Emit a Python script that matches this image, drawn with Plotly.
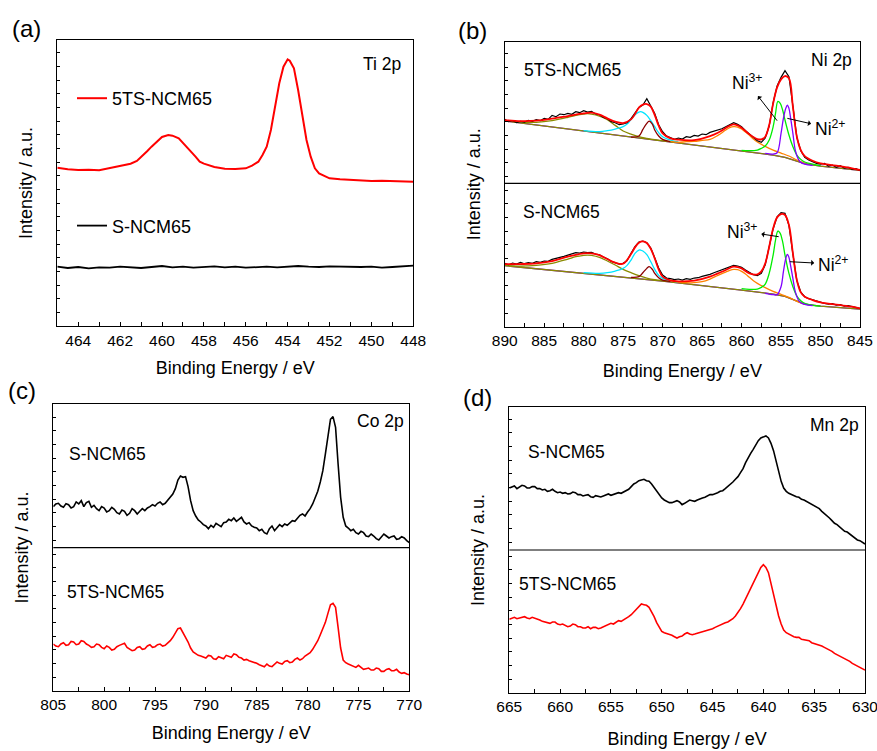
import plotly.graph_objects as go

FONT = "Liberation Sans, Arial, sans-serif"
RED = "#ff0000"
BLACK = "#000000"

# ---------------- (a) Ti 2p ----------------
ti_x_5ts = [465, 464.5, 464, 463.5, 463, 462.5, 462, 461.5, 461.2, 461, 460.7, 460.5, 460.2, 460,
            459.7, 459.5, 459.2, 459, 458.8, 458.6, 458.4, 458.2, 458, 457.5, 457, 456.5, 456,
            455.7, 455.4, 455.2, 455, 454.8, 454.6, 454.4, 454.2, 454, 453.9, 453.7, 453.5, 453.3,
            453.1, 452.9, 452.7, 452.5, 452.2, 452, 451.5, 451, 450.5, 450, 449.5, 449, 448.5, 448]
ti_y_5ts = [475, 470, 468, 469, 467, 473, 481, 487, 495, 506, 525, 538, 556, 567,
            573, 571, 563, 550, 537, 523, 508, 493, 487, 477, 472, 471, 473,
            481, 493, 513, 538, 588, 658, 728, 778, 800, 796, 773, 708, 628,
            558, 508, 473, 458, 448, 443, 440, 438, 436, 435, 436, 435, 434, 433]
ti_x_s = [465, 464.5, 464, 463.5, 463, 462.5, 462, 461.5, 461, 460.5, 460, 459.5, 459, 458.5,
          458, 457.5, 457, 456.5, 456, 455.5, 455, 454.5, 454, 453.5, 453, 452.5, 452, 451.5,
          451, 450.5, 450, 449.5, 449, 448.5, 448]
ti_y_s = [178, 174, 177, 173, 176, 175, 178, 176, 174, 177, 180, 176, 178, 175,
          177, 179, 176, 178, 175, 177, 178, 176, 179, 180, 178, 177, 179, 178,
          176, 177, 178, 175, 177, 180, 181]

# ---------------- (b) Ni 2p ----------------
ni_data_x = [890, 889.5, 889, 888.5, 888, 887.5, 887, 886.5, 886, 885.5, 885, 884.5, 884, 883.5,
             883, 882.5, 882, 881.5, 881, 880.5, 880, 879.5, 879, 878.5, 878, 877.5, 877, 876.5,
             876, 875.5, 875, 874.5, 874, 873.5, 873, 872.5, 872, 871.5, 871, 870.5, 870, 869.5,
             869, 868.5, 868, 867.5, 867, 866.5, 866, 865.5, 865, 864.5, 864, 863.5, 863, 862.5,
             862, 861.5, 861, 860.5, 860, 859.5, 859, 858.5, 858, 857.5, 857, 856.5, 856, 855.5,
             855, 854.5, 854, 853.5, 853, 852.5, 852, 851.5, 851, 850.5, 850, 849.5, 849, 848.5,
             848, 847.5, 847, 846.5, 846, 845.5, 845]
ni_top_data = [622, 615, 618, 612, 616, 614, 619, 616, 621, 618, 625, 622, 634, 630,
               638, 636, 640, 637, 645, 642, 648, 644, 646, 638, 636, 628, 624, 615,
               612, 606, 608, 612, 624, 640, 658, 665, 684, 662, 640, 606, 585, 572,
               568, 562, 566, 563, 570, 568, 574, 572, 578, 576, 583, 586, 590, 594,
               600, 606, 612, 607, 600, 588, 577, 566, 558, 553, 566, 602, 672, 722,
               748, 768, 750, 662, 568, 528, 508, 500, 494, 490, 488, 490, 482, 485,
               478, 483, 476, 478, 472, 474, 468]
ni_bot_data = [190, 186, 191, 188, 193, 189, 192, 190, 195, 193, 197, 196, 202, 204,
               208, 211, 215, 217, 222, 221, 224, 222, 223, 218, 216, 209, 204, 196,
               192, 188, 190, 198, 220, 240, 254, 257, 252, 236, 207, 176, 155, 146,
               144, 141, 143, 140, 144, 142, 146, 147, 151, 153, 157, 162, 166, 170,
               174, 178, 184, 182, 178, 170, 162, 156, 153, 160, 186, 238, 294, 330,
               342, 340, 304, 218, 138, 104, 90, 84, 80, 76, 74, 70, 68, 69,
               65, 66, 62, 63, 60, 58, 55]

ni_env_x = [890, 888, 886, 884, 882, 880, 879, 878, 877, 876, 875, 874, 873.5, 873, 872.5,
            872, 871.5, 871, 870.5, 870, 869, 868, 866, 864, 863, 862, 861.5, 861, 860.5, 860,
            859, 858, 857.5, 857, 856.5, 856, 855.5, 855, 854.5, 854, 853.5, 853, 852.5, 852,
            851, 850, 848, 846, 845]
ni_top_env = [620, 617, 618, 624, 632, 640, 642, 636, 625, 615, 611, 622, 638, 657, 666,
              668, 660, 635, 603, 580, 565, 561, 560, 572, 582, 596, 603, 607, 604, 597,
              577, 563, 562, 570, 605, 670, 718, 742, 752, 745, 660, 570, 530, 512,
              498, 490, 483, 475, 470]
ni_bot_env = [188, 188, 190, 197, 210, 220, 220, 215, 203, 192, 189, 218, 238, 252, 256,
              251, 234, 205, 172, 150, 139, 136, 138, 150, 160, 170, 176, 180, 179, 175,
              160, 157, 166, 190, 240, 295, 328, 338, 335, 305, 220, 140, 103, 90,
              80, 73, 66, 60, 55]

ni_bg_x = [890, 880, 870, 860, 856, 854.5, 853, 852, 850, 845]
ni_top_bg = [617, 587, 557, 527, 515, 508, 496, 489, 482, 469]
ni_bot_bg = [183, 160, 137, 110, 98, 91, 77, 68, 62, 53]

# satellite ~880 eV (olive)
ni_sat1_x = [890, 888, 886, 884, 882, 881, 880, 879.5, 879, 878, 877, 876, 875, 874, 873, 872, 871, 870, 868]
ni_top_sat1 = [618, 614, 613, 618, 628, 634, 638, 639, 638, 632, 621, 604, 587, 578, 570, 565, 561, 558, 553]
ni_bot_sat1 = [184, 182, 184, 190, 203, 210, 214, 215, 214, 208, 197, 185, 172, 162, 153, 146, 141, 138, 134]
# Ni3+ 2p1/2 (cyan)
ni_p1_x = [880, 878, 877, 876, 875, 874.5, 874, 873.5, 873, 872.8, 872.5, 872, 871.5, 871, 870.5, 870, 869, 868]
ni_top_p1 = [588, 585, 588, 593, 600, 608, 622, 636, 644, 645, 643, 634, 618, 600, 582, 570, 560, 554]
ni_bot_p1 = [162, 160, 162, 167, 175, 184, 200, 220, 230, 230, 227, 216, 195, 172, 154, 145, 138, 134]
# Ni2+ 2p1/2 (dark red)
ni_p2_x = [874, 873, 872.5, 872, 871.7, 871.3, 871, 870.5, 870, 869]
ni_top_p2 = [569, 572, 592, 610, 617, 608, 590, 572, 562, 555]
ni_bot_p2 = [148, 150, 162, 175, 180, 172, 160, 147, 140, 136]
# satellite ~861 eV (orange)
ni_sat2_x = [869, 868, 867, 866, 865, 864, 863, 862, 861.5, 861, 860.5, 860, 859.5, 859, 858.5,
             858, 857, 856, 855, 854, 853, 852]
ni_top_sat2 = [556, 553, 555, 556, 559, 562, 574, 590, 597, 600, 599, 593, 584, 574, 563,
               554, 541, 530, 521, 512, 500, 491]
ni_bot_sat2 = [138, 134, 132, 132, 135, 143, 154, 164, 169, 172, 171, 166, 158, 148, 138,
               130, 117, 106, 97, 88, 76, 68]
# Ni3+ 2p3/2 (green)
ni_p3_x = [860, 859, 858, 857.5, 857, 856.5, 856, 855.7, 855.4, 855.1, 854.8, 854.5, 854,
           853.5, 853, 852.5, 852, 851, 850]
ni_top_p3 = [529, 528, 530, 535, 542, 560, 600, 640, 676, 670, 650, 620, 575,
             540, 515, 502, 494, 488, 483]
ni_bot_p3 = [114, 112, 113, 118, 128, 160, 215, 260, 287, 280, 255, 215, 160,
             120, 92, 78, 70, 64, 62]
# Ni2+ 2p3/2 (violet)
ni_p4_x = [857, 856, 855.5, 855, 854.7, 854.4, 854.2, 854, 853.8, 853.5, 853.2, 852.8, 852.5, 852, 851]
ni_top_p4 = [520, 518, 522, 580, 625, 655, 665, 655, 628, 580, 530, 502, 493, 488, 484]
ni_bot_p4 = [100, 96, 96, 120, 165, 205, 217, 208, 185, 145, 105, 80, 72, 67, 63]

# Ni labels (text position) and the peak each arrow points from
ni_labels = ["Ni<sup>3+</sup>", "Ni<sup>2+</sup>", "Ni<sup>3+</sup>", "Ni<sup>2+</sup>"]
ni_label_x = [859.3, 848.8, 859.9, 848.4]
ni_label_y = [734, 596, 287, 188]
ni_peak_x = [855.5, 854.2, 855.3, 853.9]
ni_peak_y = [618, 625, 270, 195]

# ---------------- (c) Co 2p ----------------
co_x = [805, 804.75, 804.5, 804.25, 804, 803.75, 803.5, 803.25, 803, 802.75,
        802.5, 802.25, 802, 801.75, 801.5, 801.25, 801, 800.75, 800.5, 800.25,
        800, 799.75, 799.5, 799.25, 799, 798.75, 798.5, 798.25, 798, 797.75,
        797.5, 797.25, 797, 796.75, 796.5, 796.25, 796, 795.75, 795.5, 795.25,
        795, 794.75, 794.5, 794.25, 794, 793.75, 793.5, 793.25, 793, 792.75,
        792.5, 792.25, 792, 791.75, 791.5, 791.25, 791, 790.75, 790.5, 790.25,
        790, 789.75, 789.5, 789.25, 789, 788.75, 788.5, 788.25, 788, 787.75,
        787.5, 787.25, 787, 786.75, 786.5, 786.25, 786, 785.75, 785.5, 785.25,
        785, 784.75, 784.5, 784.25, 784, 783.75, 783.5, 783.25, 783, 782.75,
        782.5, 782.25, 782, 781.75, 781.5, 781.25, 781, 780.75, 780.5, 780.25,
        780, 779.75, 779.5, 779.25, 779, 778.75, 778.5, 778.25, 778, 777.75,
        777.5, 777.25, 777, 776.75, 776.5, 776.25, 776, 775.75, 775.5, 775.25,
        775, 774.75, 774.5, 774.25, 774, 773.75, 773.5, 773.25, 773, 772.75,
        772.5, 772.25, 772, 771.75, 771.5, 771.25, 771, 770.75, 770.5, 770.25,
        770]
co_y_s = [552, 560, 562, 554, 550, 561, 558, 548, 552, 566,
          560, 570, 552, 564, 568, 550, 556, 546, 540, 552,
          548, 536, 540, 550, 544, 534, 530, 542, 538, 526,
          532, 546, 540, 530, 538, 546, 540, 548, 552, 558,
          554, 562, 566, 558, 562, 572, 580, 590, 606, 632,
          644, 640, 642, 612, 570, 540, 524, 512, 506, 498,
          494, 486, 496, 490, 502, 496, 492, 504, 506, 514,
          510, 518, 508, 514, 520, 506, 500, 504, 494, 490,
          488, 480, 484, 474, 470, 486, 494, 480, 488, 498,
          492, 500, 496, 504, 510, 508, 518, 526, 530, 524,
          536, 546, 560, 578, 598, 626, 660, 710, 770, 814,
          822, 790, 680, 580, 520, 494, 488, 480, 484, 474,
          470, 478, 474, 464, 462, 470, 464, 456, 452, 462,
          470, 464, 458, 462, 464, 454, 456, 462, 458, 450,
          444]
co_y_5ts = [140, 134, 132, 140, 144, 136, 138, 148, 146, 138,
            140, 150, 148, 140, 136, 130, 132, 140, 138, 130,
            126, 134, 130, 122, 124, 132, 136, 140, 142, 130,
            126, 120, 122, 130, 132, 124, 126, 134, 138, 130,
            132, 138, 140, 134, 136, 142, 150, 160, 172, 186,
            188, 176, 160, 146, 128, 116, 110, 106, 104, 100,
            98, 106, 104, 96, 94, 102, 100, 96, 106, 102,
            100, 110, 108, 100, 98, 92, 94, 90, 88, 84,
            82, 78, 76, 72, 80, 74, 72, 80, 86, 82,
            80, 88, 90, 84, 86, 94, 98, 92, 96, 104,
            110, 114, 124, 136, 150, 168, 185, 205, 232, 258,
            262, 250, 190, 128, 92, 84, 80, 76, 72, 70,
            76, 70, 64, 66, 68, 62, 62, 68, 66, 58,
            58, 64, 66, 60, 60, 64, 56, 52, 54, 50,
            48]

# ---------------- (d) Mn 2p ----------------
mn_x = [665, 664.75, 664.5, 664.25, 664, 663.75, 663.5, 663.25, 663, 662.75,
        662.5, 662.25, 662, 661.75, 661.5, 661.25, 661, 660.75, 660.5, 660.25,
        660, 659.75, 659.5, 659.25, 659, 658.75, 658.5, 658.25, 658, 657.75,
        657.5, 657.25, 657, 656.75, 656.5, 656.25, 656, 655.75, 655.5, 655.25,
        655, 654.75, 654.5, 654.25, 654, 653.75, 653.5, 653.25, 653, 652.75,
        652.5, 652.25, 652, 651.75, 651.5, 651.25, 651, 650.75, 650.5, 650.25,
        650, 649.75, 649.5, 649.25, 649, 648.75, 648.5, 648.25, 648, 647.75,
        647.5, 647.25, 647, 646.75, 646.5, 646.25, 646, 645.75, 645.5, 645.25,
        645, 644.75, 644.5, 644.25, 644, 643.75, 643.5, 643.25, 643, 642.75,
        642.5, 642.25, 642, 641.75, 641.5, 641.25, 641, 640.75, 640.5, 640.25,
        640, 639.75, 639.5, 639.25, 639, 638.75, 638.5, 638.25, 638, 637.75,
        637.5, 637.25, 637, 636.75, 636.5, 636.25, 636, 635.75, 635.5, 635.25,
        635, 634.75, 634.5, 634.25, 634, 633.75, 633.5, 633.25, 633, 632.75,
        632.5, 632.25, 632, 631.75, 631.5, 631.25, 631, 630.75, 630.5, 630.25,
        630]
mn_y_s = [614, 618, 620, 612, 616, 622, 620, 614, 614, 618,
          618, 612, 612, 608, 610, 604, 606, 610, 604, 600,
          602, 598, 600, 596, 597, 602, 600, 594, 594, 590,
          592, 594, 588, 586, 591, 588, 587, 590, 594, 596,
          592, 594, 596, 600, 598, 602, 606, 610, 618, 626,
          630, 636, 638, 640, 636, 634, 626, 616, 604, 594,
          584, 578, 574, 570, 570, 574, 576, 572, 564, 568,
          574, 578, 576, 574, 578, 582, 584, 586, 590, 594,
          594, 596, 600, 604, 606, 612, 618, 624, 632, 640,
          648, 660, 672, 690, 706, 718, 730, 744, 756, 764,
          768, 770, 764, 748, 726, 694, 660, 634, 614, 604,
          598, 594, 590, 588, 586, 580, 578, 574, 570, 564,
          560, 556, 552, 544, 538, 532, 524, 516, 508, 504,
          498, 490, 484, 482, 476, 470, 464, 458, 456, 450,
          446]
mn_y_5ts = [220, 224, 226, 222, 224, 228, 228, 224, 222, 226,
            224, 220, 218, 214, 212, 208, 208, 212, 212, 206,
            204, 206, 202, 198, 200, 206, 204, 198, 198, 194,
            194, 198, 192, 196, 196, 192, 194, 198, 202, 206,
            208, 206, 212, 216, 214, 218, 222, 228, 234, 242,
            250, 260, 266, 264, 262, 256, 244, 228, 210, 196,
            184, 180, 178, 176, 172, 168, 164, 168, 170, 176,
            180, 176, 174, 176, 178, 180, 182, 184, 186, 190,
            192, 196, 200, 204, 208, 210, 212, 216, 222, 230,
            240, 252, 266, 282, 298, 314, 330, 346, 362, 376,
            384, 376, 360, 326, 290, 258, 230, 206, 188, 180,
            176, 170, 168, 166, 166, 160, 158, 158, 156, 150,
            148, 146, 144, 140, 136, 132, 130, 124, 118, 114,
            110, 106, 104, 98, 94, 88, 84, 80, 76, 72,
            68]

# ---------------- figure ----------------
fig = go.Figure()


def line(x, y, color, width, ax, name=None, group=None, shape="linear", show=False):
    fig.add_trace(go.Scatter(x=x, y=y, mode="lines", name=name, legendgroup=group,
                             showlegend=show, line=dict(color=color, width=width, shape=shape),
                             xaxis="x" + ax, yaxis="y" + ax, hoverinfo="skip"))


# (a)
line(ti_x_5ts, ti_y_5ts, RED, 2, "", name="5TS-NCM65", group="g1", show=True)
line(ti_x_s, ti_y_s, BLACK, 1.8, "", name="S-NCM65", group="g2", show=True)

# (b)
OLIVE, CYAN, DRED, ORANGE, GREEN, VIOLET = "#8a8a00", "#00e5ff", "#8b0000", "#ff8000", "#00ee00", "#8000ff"
for bg, s1, p1, p2, s2, p3, p4, dat, env in [
        (ni_top_bg, ni_top_sat1, ni_top_p1, ni_top_p2, ni_top_sat2, ni_top_p3, ni_top_p4, ni_top_data, ni_top_env),
        (ni_bot_bg, ni_bot_sat1, ni_bot_p1, ni_bot_p2, ni_bot_sat2, ni_bot_p3, ni_bot_p4, ni_bot_data, ni_bot_env)]:
    line(ni_bg_x, bg, VIOLET, 1.3, "2")
    line(ni_bg_x, bg, OLIVE, 1.3, "2")
    line(ni_sat1_x, s1, OLIVE, 1.3, "2", shape="spline")
    line(ni_p1_x, p1, CYAN, 1.3, "2", shape="spline")
    line(ni_p2_x, p2, DRED, 1.3, "2", shape="spline")
    line(ni_sat2_x, s2, ORANGE, 1.3, "2", shape="spline")
    line(ni_p3_x, p3, GREEN, 1.3, "2", shape="spline")
    line(ni_p4_x, p4, VIOLET, 1.3, "2", shape="spline")
    line(ni_data_x, dat, BLACK, 1.2, "2")
    line(ni_env_x, env, RED, 1.8, "2", shape="spline")

# (c)
line(co_x, co_y_s, BLACK, 1.6, "3")
line(co_x, co_y_5ts, RED, 1.6, "3")

# (d)
line(mn_x, mn_y_s, BLACK, 1.6, "4")
line(mn_x, mn_y_5ts, RED, 1.6, "4")

W, H = 877, 751


def px(x):
    return x / W


def py(y):
    return 1 - y / H


def xaxis(domain, rng, dtick, mdtick, anchor, standoff):
    return dict(domain=domain, range=rng, anchor=anchor, showline=True, linecolor=BLACK,
                linewidth=1.2, mirror=True, ticks="inside", ticklen=4, tickwidth=1,
                tickcolor=BLACK, dtick=dtick, tick0=rng[1], ticklabeloverflow="allow",
                minor=dict(dtick=mdtick, tick0=rng[1], ticks="inside", ticklen=4, tickcolor=BLACK),
                showgrid=False, zeroline=False, automargin=False,
                tickfont=dict(size=15.5, color=BLACK, family=FONT),
                title=dict(text="Binding Energy / eV", font=dict(size=18, color=BLACK, family=FONT),
                           standoff=standoff))


def yaxis(domain, top, anchor):
    return dict(domain=domain, range=[0, top], anchor=anchor, showline=True, linecolor=BLACK,
                linewidth=1.2, mirror=True, ticks="inside", ticklen=3, tickwidth=1,
                tickcolor=BLACK, tick0=0, dtick=41, showticklabels=False, showgrid=False,
                zeroline=False, automargin=False,
                title=dict(text="Intensity / a.u.", font=dict(size=18, color=BLACK, family=FONT),
                           standoff=18))


fig.update_layout(
    width=W, height=H, margin=dict(l=0, r=0, t=0, b=0),
    paper_bgcolor="white", plot_bgcolor="white",
    font=dict(family=FONT, color=BLACK),
    xaxis=xaxis([px(57.3), px(413.3)], [465, 448], 2, 1, "y", 13),
    yaxis=yaxis([py(326), py(40)], 858, "x"),
    xaxis2=xaxis([px(504.7), px(860)], [890, 845], 5, 2.5, "y2", 15),
    yaxis2=yaxis([py(326.7), py(41.7)], 855, "x2"),
    xaxis3=xaxis([px(53.3), px(409.3)], [805, 770], 5, 2.5, "y3", 13),
    yaxis3=yaxis([py(690.7), py(404.3)], 859, "x3"),
    xaxis4=xaxis([px(509.3), px(865)], [665, 630], 5, 2.5, "y4", 17),
    yaxis4=yaxis([py(692.7), py(407.3)], 856, "x4"),
    legend=dict(x=px(72), y=py(80), xanchor="left", yanchor="top", bgcolor="rgba(0,0,0,0)",
                font=dict(size=18, family=FONT, color=BLACK), tracegroupgap=101,
                traceorder="grouped"),
    showlegend=True,
)

shapes = []
for ax, yv in [("2", 430), ("3", 429), ("4", 428)]:
    shapes.append(dict(type="line", xref="x" + ax + " domain", x0=0, x1=1, yref="y" + ax,
                       y0=yv, y1=yv, line=dict(color=BLACK, width=1.2)))
fig.update_layout(shapes=shapes)

ann = []


def text(t, x, y, size=17.5):
    ann.append(dict(text=t, x=px(x), y=py(y), xref="paper", yref="paper", showarrow=False,
                    xanchor="center", yanchor="middle",
                    font=dict(size=size, family=FONT, color=BLACK)))


text("(a)", 26, 28, 24)
text("(b)", 472, 31, 24)
text("(c)", 22, 390, 24)
text("(d)", 477, 397, 24)
text("Ti 2p", 382, 64)
text("Ni 2p", 831, 60)
text("5TS-NCM65", 572, 70)
text("S-NCM65", 561, 212)
text("Co 2p", 380, 421)
text("S-NCM65", 107, 454)
text("5TS-NCM65", 116, 592)
text("Mn 2p", 834, 425)
text("S-NCM65", 566, 452)
text("5TS-NCM65", 567, 584)

# Ni labels: text at label position, arrow drawn from the peak towards the label (head at label)
for i in range(len(ni_labels)):
    ann.append(dict(text=ni_labels[i], ax=ni_label_x[i], ay=ni_label_y[i],
                    x=ni_peak_x[i], y=ni_peak_y[i], xref="x2", yref="y2", axref="x2", ayref="y2",
                    showarrow=True, arrowside="start", arrowhead=2, arrowsize=1, arrowwidth=1,
                    arrowcolor=BLACK, startstandoff=2,
                    font=dict(size=17.5, family=FONT, color=BLACK)))

fig.update_layout(annotations=ann)
fig.write_html("out.html")
